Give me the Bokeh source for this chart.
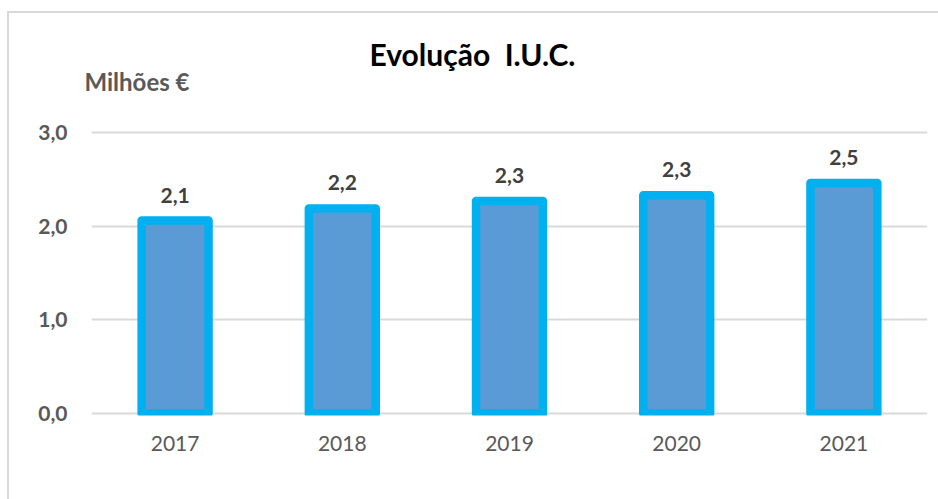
from bokeh.plotting import figure
from bokeh.models import ColumnDataSource, LabelSet, Title, Range1d, FixedTicker
from bokeh.core.properties import value
from bokeh.embed import file_html
from bokeh.resources import INLINE

# ---- data ----
years = ["2017", "2018", "2019", "2020", "2021"]
values = [2.06, 2.19, 2.27, 2.33, 2.46]
value_labels = [f"{v:.1f}".replace(".", ",") for v in values]
y_ticks = [0, 1, 2, 3]
y_tick_labels = ["0,0", "1,0", "2,0", "3,0"]
title_text = "Evolução  I.U.C."
unit_text = "Milhões €"

FONT = "Lato"
GREY = "#595959"

src = ColumnDataSource(dict(year=years, value=values, label=value_labels))

p = figure(
    x_range=years,
    y_range=Range1d(-0.0215, 3.054),
    width=931, height=488,
    min_border_left=82, min_border_right=13,
    min_border_top=114, min_border_bottom=86,
    output_backend="svg", toolbar_location=None,
    title_location=None,
    margin=(11, 0, 0, 7),
)
p.styles = {"border-top": "2px solid #D9D9D9", "border-left": "2px solid #D9D9D9"}
p.outline_line_color = None
p.background_fill_color = "white"
p.border_fill_color = "white"

p.vbar(x="year", top="value", bottom=0, width=0.4, source=src,
       fill_color="#5B9BD5", line_color="#00B0F0", line_width=8.5,
       line_join="round")

# grid
p.xgrid.grid_line_color = None
p.ygrid.grid_line_color = "#D9D9D9"
p.ygrid.grid_line_width = 2
p.yaxis.ticker = FixedTicker(ticks=y_ticks)
p.yaxis.major_label_overrides = {t: l for t, l in zip(y_ticks, y_tick_labels)}

for ax in (p.xaxis, p.yaxis):
    ax.axis_line_color = None
    ax.major_tick_line_color = None
    ax.minor_tick_line_color = None
    ax.major_tick_out = 0
    ax.major_tick_in = 0
    ax.major_label_text_font = FONT
    ax.major_label_text_color = GREY
    ax.major_label_text_font_size = "21px"

p.yaxis.major_label_text_font_style = "bold"
p.yaxis.major_label_standoff = 24
p.xaxis.major_label_standoff = 20

labels = LabelSet(x="year", y="value", text="label", source=src,
                  text_align="center", text_baseline="alphabetic", y_offset=18,
                  text_font=value(FONT), text_font_style="bold", text_font_size="21px",
                  text_color="#404040")
p.add_layout(labels)

# titles: first added sits closest to the frame
p.add_layout(Title(text=unit_text, align="left", offset=-7, standoff=64,
                   vertical_align="bottom",
                   text_font=FONT, text_font_style="bold", text_font_size="24px",
                   text_color=GREY), "above")
p.add_layout(Title(text=title_text.replace("  ", " \u00a0"), align="left", offset=278,
                   standoff=-79, vertical_align="bottom",
                   text_font=FONT, text_font_style="bold", text_font_size="30px",
                   text_color="black"), "above")

open("out.html", "w").write(file_html(p, INLINE))
